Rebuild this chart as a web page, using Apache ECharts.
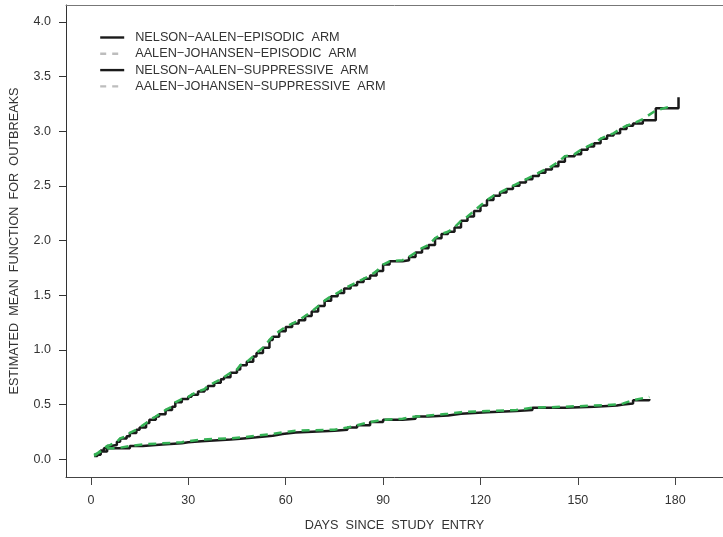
<!DOCTYPE html>
<html>
<head>
<meta charset="utf-8">
<script src="https://cdn.jsdelivr.net/npm/echarts@6/dist/echarts.min.js"></script>
<style>
html,body{margin:0;padding:0;background:#fff;}
#c{width:723px;height:537px;}
</style>
</head>
<body>
<div id="c"></div>
<script>
// ---- data ----
const xTicks = [0, 30, 60, 90, 120, 150, 180];
const yTicks = [0, 0.5, 1, 1.5, 2, 2.5, 3, 3.5, 4];

const seriesNames = [
  'NELSON\u2212AALEN\u2212EPISODIC  ARM',
  'AALEN\u2212JOHANSEN\u2212EPISODIC  ARM',
  'NELSON\u2212AALEN\u2212SUPPRESSIVE  ARM',
  'AALEN\u2212JOHANSEN\u2212SUPPRESSIVE  ARM'
];

const epiDays = [1,2,3,4,5,6,8,9,11,12,14,15,17,18,20,21,23,25,26,28,30,31,33,35,36,38,40,41,43,45,46,48,50,51,53,55,56,58,60,62,64,66,68,70,72,74,76,78,80,82,84,86,88,90,92,96,98,100,102,104,106,108,110,112,114,116,118,120,122,124,126,128,130,132,134,136,138,140,142,144,146,149,151,153,155,157,159,161,163,165,167,170,174,181];
const epiNA = [0.03,0.05,0.08,0.10,0.12,0.13,0.16,0.19,0.21,0.24,0.27,0.29,0.33,0.36,0.39,0.41,0.45,0.48,0.52,0.55,0.57,0.59,0.62,0.64,0.67,0.70,0.73,0.75,0.79,0.82,0.86,0.89,0.94,0.97,1.02,1.09,1.12,1.17,1.21,1.24,1.27,1.31,1.35,1.40,1.45,1.49,1.52,1.56,1.59,1.62,1.65,1.68,1.72,1.78,1.81,1.82,1.85,1.89,1.93,1.96,2.02,2.06,2.08,2.12,2.18,2.22,2.27,2.32,2.37,2.41,2.44,2.47,2.50,2.53,2.56,2.59,2.62,2.65,2.68,2.72,2.77,2.79,2.83,2.86,2.89,2.93,2.96,2.98,3.02,3.05,3.07,3.10,3.21,3.31];

const epiAJDays = [1,2,3,4,5,6,8,9,11,12,14,15,17,18,20,21,23,25,26,28,30,31,33,35,36,38,40,41,43,45,46,48,50,51,53,55,56,58,60,62,64,66,68,70,72,74,76,78,80,82,84,86,88,90,92,96,98,100,102,104,106,108,110,112,114,116,118,120,122,124,126,128,130,132,134,136,138,140,142,144,146,149,151,153,155,157,159,161,163,165,167,170,174,179];
const epiAJ = [0.03,0.05,0.08,0.10,0.12,0.13,0.16,0.19,0.21,0.24,0.27,0.29,0.33,0.36,0.39,0.41,0.45,0.48,0.52,0.55,0.57,0.59,0.62,0.64,0.67,0.70,0.73,0.75,0.79,0.82,0.86,0.89,0.94,0.97,1.02,1.09,1.12,1.17,1.21,1.24,1.27,1.31,1.35,1.40,1.45,1.49,1.52,1.56,1.59,1.62,1.65,1.68,1.72,1.78,1.81,1.82,1.85,1.89,1.93,1.96,2.02,2.06,2.08,2.12,2.18,2.22,2.27,2.32,2.37,2.41,2.44,2.47,2.50,2.53,2.56,2.59,2.62,2.65,2.68,2.72,2.77,2.79,2.83,2.86,2.89,2.93,2.96,2.98,3.02,3.05,3.07,3.11,3.19,3.23];

const supDays = [1,3,5,8,12,16,22,28,30,34,43,47,51,56,59,63,75,79,82,86,90,96,100,104,110,114,122,131,136,146,155,162,164,167,172];
const supNA = [0.04,0.07,0.10,0.10,0.12,0.135,0.145,0.155,0.165,0.18,0.19,0.20,0.215,0.23,0.245,0.26,0.27,0.29,0.31,0.34,0.36,0.37,0.39,0.40,0.415,0.43,0.44,0.45,0.47,0.48,0.49,0.50,0.51,0.54,0.55];
const supAJ = [0.04,0.07,0.10,0.10,0.12,0.135,0.145,0.155,0.165,0.18,0.19,0.20,0.215,0.23,0.245,0.26,0.27,0.29,0.31,0.34,0.36,0.37,0.39,0.40,0.415,0.43,0.44,0.45,0.47,0.48,0.49,0.50,0.51,0.54,0.57];

// ---- build ----
const pair = (xs, ys) => xs.map((x, i) => [x, ys[i]]);
const FONT = '"Liberation Sans", Arial, sans-serif';
const TXT = '#333';
const BLACK = '#1a1a1a';
const GREEN = '#35b255';
const FS_TICK = 12.5;
const FS_TEXT = 12.7;

const chart = echarts.init(document.getElementById('c'), null, {renderer: 'canvas'});

function naSeries(name, data) {
  return {
    name, type: 'line', data, step: 'end', symbol: 'none', showSymbol: false, silent: true,
    lineStyle: {color: BLACK, width: 2.5}, itemStyle: {color: BLACK}, z: 2
  };
}
function ajSeries(name, data) {
  return {
    name, type: 'line', data, symbol: 'none', showSymbol: false, silent: true,
    lineStyle: {color: GREEN, width: 2.5, type: [8, 6]}, itemStyle: {color: GREEN}, z: 3
  };
}
const hiddenSym = {opacity: 0, color: 'rgba(0,0,0,0)', borderWidth: 0};

chart.setOption({
  animation: false,
  backgroundColor: '#fff',
  textStyle: {fontFamily: FONT},
  grid: {left: 63, top: 5, right: 0, bottom: 56, containLabel: false},
  legend: {
    orient: 'vertical', left: 99, top: 31, padding: 0,
    itemWidth: 24, itemHeight: 12, itemGap: 3.3,
    textStyle: {fontFamily: FONT, fontSize: FS_TEXT, color: TXT, padding: [0, 0, 0, 6]},
    selectedMode: false,
    data: [
      {name: seriesNames[0], itemStyle: hiddenSym, lineStyle: {color: BLACK, width: 2.4, type: 'solid'}},
      {name: seriesNames[1], itemStyle: hiddenSym, lineStyle: {color: '#bdbdbd', width: 2.4, type: [6, 6]}},
      {name: seriesNames[2], itemStyle: hiddenSym, lineStyle: {color: BLACK, width: 2.4, type: 'solid'}},
      {name: seriesNames[3], itemStyle: hiddenSym, lineStyle: {color: '#bdbdbd', width: 2.4, type: [6, 6]}}
    ]
  },
  xAxis: [{
    type: 'value', position: 'bottom', min: -7.67, max: 194.7,
    axisLine: {show: true, onZero: false, lineStyle: {color: '#444', width: 1}},
    axisTick: {show: true, customValues: xTicks, length: 8, lineStyle: {color: '#444'}},
    axisLabel: {customValues: xTicks, margin: 17, fontSize: FS_TICK, color: TXT, fontFamily: FONT},
    splitLine: {show: false},
    name: 'DAYS  SINCE  STUDY  ENTRY', nameLocation: 'middle', nameGap: 42,
    nameTextStyle: {fontSize: FS_TEXT, color: TXT, fontFamily: FONT}
  }, {
    type: 'value', position: 'top', min: -7.67, max: 194.7,
    axisLine: {show: true, onZero: false, lineStyle: {color: '#777', width: 1}},
    axisTick: {show: false}, axisLabel: {show: false}, splitLine: {show: false}
  }],
  yAxis: [{
    type: 'value', position: 'left', min: -0.163, max: 4.154,
    axisLine: {show: true, onZero: false, lineStyle: {color: '#333', width: 1}},
    axisTick: {show: true, customValues: yTicks, length: 7, lineStyle: {color: '#333'}},
    axisLabel: {customValues: yTicks, margin: 15, fontSize: FS_TICK, color: TXT, fontFamily: FONT,
      formatter: v => v.toFixed(1)},
    splitLine: {show: false},
    name: 'ESTIMATED  MEAN  FUNCTION  FOR  OUTBREAKS', nameLocation: 'middle', nameGap: 45,
    nameTextStyle: {fontSize: FS_TEXT, color: TXT, fontFamily: FONT}
  }],
  series: [
    naSeries(seriesNames[0], pair(epiDays, epiNA)),
    ajSeries(seriesNames[1], pair(epiAJDays, epiAJ)),
    naSeries(seriesNames[2], pair(supDays, supNA)),
    ajSeries(seriesNames[3], pair(supDays, supAJ))
  ]
});
</script>
</body>
</html>
